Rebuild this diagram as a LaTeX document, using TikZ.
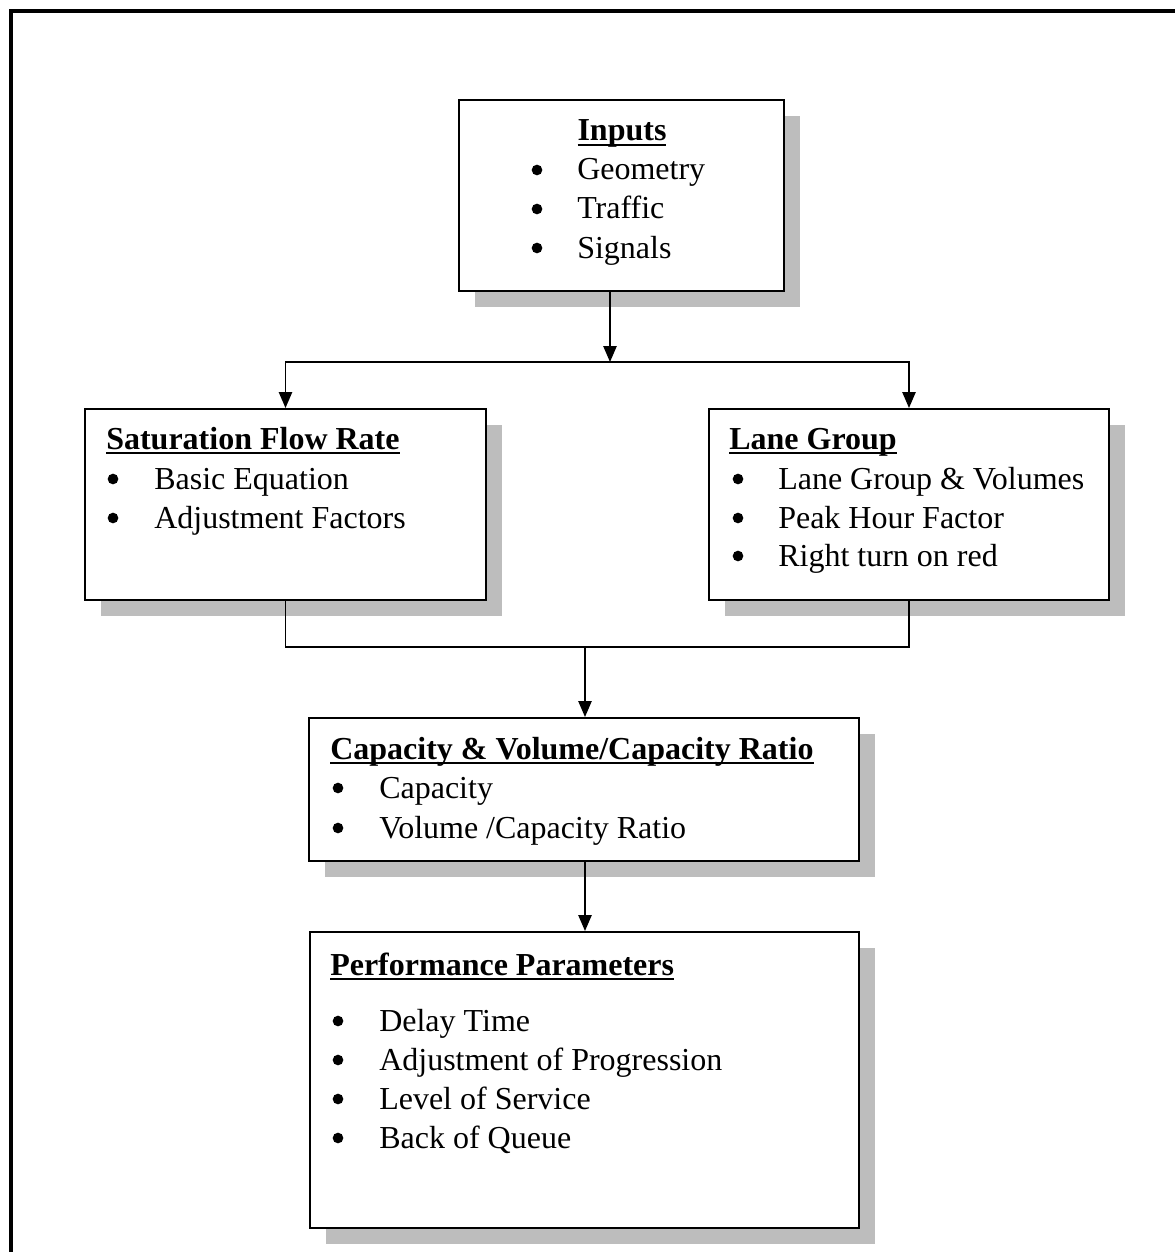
\documentclass[tikz,border=0pt]{standalone}
\usepackage{fontspec}
\setmainfont{Liberation Serif}
\usetikzlibrary{arrows.meta,fit}
\newcommand\myul[1]{\setbox0\hbox{#1}\rlap{\rule[-0.17em]{\wd0}{0.065em}}\box0}
\begin{document}
\begin{tikzpicture}[x=0.75pt,y=-0.75pt,
  box/.style={draw=black, line width=1.5pt, fill=white, inner sep=0pt},
  shadowfill/.style={fill=black!26},
  conn/.style={line width=1.2pt},
  arr/.style={conn, -{Triangle[length=12pt,width=10pt]}},
  txt/.style={anchor=base west, inner sep=0pt, font=\fontsize{24}{29}\selectfont},
  ttl/.style={anchor=base west, inner sep=0pt, font=\fontsize{24}{29}\selectfont\bfseries},
  bul/.style={circle, fill=black, inner sep=0pt, minimum size=8pt, yshift=7.5pt}]
\useasboundingbox (0,0) rectangle (1175,1252);
\draw[line width=3pt] (11,1252) -- (11,11) -- (1175,11);

% shadows
\fill[shadowfill] (475,116) rectangle (800,307);
\fill[shadowfill] (101,425) rectangle (502,616);
\fill[shadowfill] (725,425) rectangle (1125,616);
\fill[shadowfill] (325,734) rectangle (875,877);
\fill[shadowfill] (326,948) rectangle (875,1244);

% boxes
\node[box, fit={(459,100) (784,291)}] (inputs) {};
\node[box, fit={(85,409) (486,600)}] (sat) {};
\node[box, fit={(709,409) (1109,600)}] (lane) {};
\node[box, fit={(309,718) (859,861)}] (cap) {};
\node[box, fit={(310,932) (859,1228)}] (perf) {};

% Inputs text
\node[ttl, anchor=base] (inT) at (622,141) {\myul{Inputs}};
\node[bul] (inB1) at (537,180) {};
\node[txt] (in1) at (577,180) {Geometry};
\node[bul] (inB2) at (537,219) {};
\node[txt] (in2) at (577,219) {Traffic};
\node[bul] (inB3) at (537,258) {};
\node[txt] (in3) at (577,258) {Signals};

% Saturation text
\node[ttl] (satT) at (106,449) {\myul{Saturation Flow Rate}};
\node[bul] (satB1) at (113,489) {};
\node[txt] (sat1) at (154,489) {Basic Equation};
\node[bul] (satB2) at (113,528) {};
\node[txt] (sat2) at (154,528) {Adjustment Factors};

% Lane group text
\node[ttl] (laneT) at (729,449) {\myul{Lane Group}};
\node[bul] (laneB1) at (738,489) {};
\node[txt] (lane1) at (778,489) {Lane Group \& Volumes};
\node[bul] (laneB2) at (738,528) {};
\node[txt] (lane2) at (778,528) {Peak Hour Factor};
\node[bul] (laneB3) at (738,566) {};
\node[txt] (lane3) at (778,566) {Right turn on red};

% Capacity text
\node[ttl] (capT) at (330,759) {\myul{Capacity \& Volume/Capacity Ratio}};
\node[bul] (capB1) at (338,798) {};
\node[txt] (cap1) at (379,798) {Capacity};
\node[bul] (capB2) at (338,838) {};
\node[txt] (cap2) at (379,838) {Volume /Capacity Ratio};

% Performance text
\node[ttl] (perfT) at (330,975) {\myul{Performance Parameters}};
\node[bul] (perfB1) at (338,1031) {};
\node[txt] (perf1) at (379,1031) {Delay Time};
\node[bul] (perfB2) at (338,1070) {};
\node[txt] (perf2) at (379,1070) {Adjustment of Progression};
\node[bul] (perfB3) at (338,1109) {};
\node[txt] (perf3) at (379,1109) {Level of Service};
\node[bul] (perfB4) at (338,1148) {};
\node[txt] (perf4) at (379,1148) {Back of Queue};

% connectors
\coordinate (j1) at (610,362);
\coordinate (j2) at (585,647);
\draw[arr] (inputs.south -| j1) -- (j1);
\draw[arr] (j1) -| (sat.north);
\draw[arr] (j1) -| (lane.north);
\draw[conn] (sat.south) |- (j2) -| (lane.south);
\draw[arr] (j2) -- (cap.north -| j2);
\draw[arr] (cap.south -| j2) -- (perf.north -| j2);
\end{tikzpicture}
\end{document}
